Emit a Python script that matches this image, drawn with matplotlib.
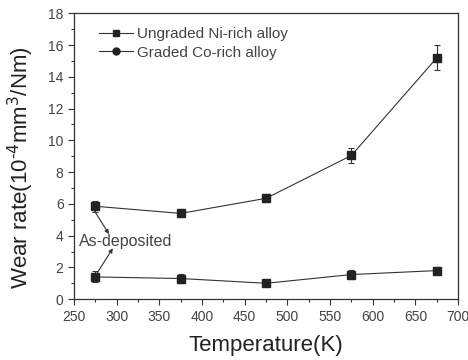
import numpy as np
import matplotlib.pyplot as plt
from matplotlib.lines import Line2D
from matplotlib.ticker import MultipleLocator

plt.rcParams['font.family'] = ['Liberation Sans', 'DejaVu Sans']

temperature = [275, 375, 475, 575, 675]
ungraded = [5.85, 5.4, 6.35, 9.05, 15.2]
ungraded_err = [0.35, 0.25, 0.25, 0.45, 0.8]
graded = [1.4, 1.3, 1.0, 1.55, 1.8]
graded_err = [0.35, 0.3, 0.1, 0.3, 0.2]

fig = plt.figure(figsize=(4.68, 3.6), dpi=100)
ax = fig.add_axes([0.158, 0.169, 0.821, 0.794])

line_kw = dict(color='#333333', linewidth=0.8, markersize=5.5, capsize=2.5,
               elinewidth=0.8, capthick=0.8, markerfacecolor='#222222',
               markeredgecolor='#222222')
ax.errorbar(temperature, ungraded, yerr=ungraded_err, fmt='-s', **line_kw)
ax.errorbar(temperature, graded, yerr=graded_err, fmt='-s', **line_kw)

# arrows from the label to the first point of each curve
arrow_kw = dict(arrowstyle='-|>', color='#333333', lw=0.8, mutation_scale=6,
                shrinkA=0, shrinkB=0)
ax.annotate('', xy=(291, 4.1), xytext=(273.5, 5.6), arrowprops=arrow_kw)
ax.annotate('', xy=(295.5, 3.2), xytext=(276, 1.55), arrowprops=arrow_kw)
ax.text(311, 3.6, 'As-deposited', fontsize=11.5, color='#444444',
        ha='center', va='center')

ax.set_xlim(250, 700)
ax.set_ylim(0, 18)
ax.xaxis.set_major_locator(MultipleLocator(50))
ax.xaxis.set_minor_locator(MultipleLocator(25))
ax.yaxis.set_major_locator(MultipleLocator(2))
ax.yaxis.set_minor_locator(MultipleLocator(1))
ax.tick_params(which='major', direction='out', length=4, width=0.8,
               labelsize=10, labelcolor='#444444', color='#333333')
ax.tick_params(which='minor', direction='out', length=2.5, width=0.8,
               color='#333333')
for s in ax.spines.values():
    s.set_linewidth(0.9)
    s.set_color('#333333')

ax.set_xlabel('Temperature(K)', fontsize=16, color='#222222', labelpad=8)
ax.set_ylabel(r'Wear rate(10$^{\text{-}4}$mm$^{3}$/Nm)', fontsize=16,
              color='#222222')
ax.yaxis.set_label_coords(-0.1, 0.46)

handles = [
    Line2D([], [], color='#333333', lw=0.8, marker='s', markersize=5,
           markerfacecolor='#222222', markeredgecolor='#222222'),
    Line2D([], [], color='#333333', lw=0.8, marker='o', markersize=5,
           markerfacecolor='#222222', markeredgecolor='#222222'),
]
ax.legend(handles, ['Ungraded Ni-rich alloy', 'Graded Co-rich alloy'],
          loc='upper left', bbox_to_anchor=(0.03, 1.0), frameon=False,
          fontsize=11, handlelength=2.2, handletextpad=0.3, labelspacing=0.3,
          labelcolor='#444444')

fig.savefig('out.png', dpi=100)
